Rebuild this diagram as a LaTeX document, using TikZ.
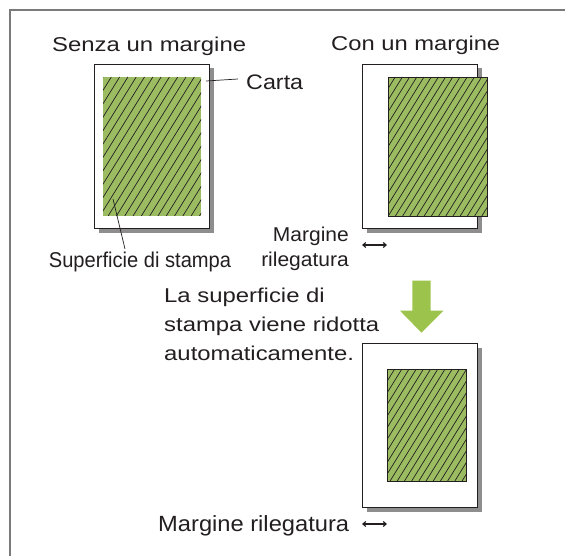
\documentclass[tikz,border=0pt]{standalone}
\usepackage{fontspec}
\usepackage{graphicx}
\setmainfont{Liberation Sans}
\usetikzlibrary{arrows.meta}
\definecolor{txt}{HTML}{231F20}
\definecolor{hatchgreen}{HTML}{9CBC62}
\definecolor{arrowgreen}{HTML}{9CC34C}
\definecolor{shadowgray}{HTML}{8E8E8E}
\definecolor{framegray}{HTML}{7A7A7A}
\newcommand\sx[2]{\scalebox{#1}[1]{#2}}
\newcommand\hatchrect[5]{%
  \begin{scope}
    \clip (#1,#2) rectangle (#3,#4);
    \pgfmathsetmacro\hh{#4-#2}
    \pgfmathsetmacro\st{#1-\hh*0.62}
    \foreach \i in {0,...,45} {
      \draw[hatchline] (\st+\i*#5,#4) -- ++(\hh*0.62,-\hh);
    }
  \end{scope}}
\tikzset{
  hatchline/.style={line width=0.7pt, txt},
  pageshadow/.style={fill=shadowgray, draw=none},
  paper/.style={fill=white, draw=txt, line width=0.9pt},
  printarea/.style={fill=hatchgreen, draw=none},
  printborder/.style={draw=txt, line width=0.8pt},
  lbl/.style={inner sep=0pt, text=txt},
  leader/.style={draw=txt, line width=0.7pt},
  dblarrow/.style={txt, line width=1.1pt, {Straight Barb[length=3pt,width=5pt]}-{Straight Barb[length=3pt,width=5pt]}},
}
\begin{document}
\begin{tikzpicture}[x=1pt,y=-1pt]
\useasboundingbox (0,0) rectangle (565,556);
% frame
\draw[framegray, line width=1.2pt] (10,556) -- (10,10) -- (565,10);

% ---- page 1 (Senza un margine)
\fill[pageshadow] (99,68) rectangle (214,233);
\draw[paper] (94,64) rectangle (209,228);
\fill[printarea] (103,77) rectangle (201,216);
\hatchrect{103}{77}{201}{216}{8.3}
\node[lbl, anchor=base west, font=\fontsize{20}{24}\selectfont] (t1) at (52,52) {\sx{1.195}{Senza un margine}};
\coordinate (c1) at (206,81);
\node[lbl, anchor=base west, font=\fontsize{21}{24}\selectfont] (carta) at (246,89.5) {\sx{1.11}{Carta}};
\draw[leader] (c1) -- ([xshift=-8pt]carta.west |- 0,79);
\coordinate (s1) at (113,199);
\node[lbl, anchor=base, font=\fontsize{21.4}{24}\selectfont] (sup) at (140,267.5) {\sx{0.94}{Superficie di stampa}};
\draw[leader] (s1) -- (125,249);

% ---- page 2 (Con un margine)
\fill[pageshadow] (367,68) rectangle (482,233);
\draw[paper] (362,64) rectangle (477,228);
\fill[printarea] (388,77) rectangle (487,216);
\hatchrect{388}{77}{487}{216}{7.2}
\draw[printborder] (388,77) rectangle (487,216);
\node[lbl, anchor=base west, font=\fontsize{20}{24}\selectfont] (t2) at (331,50.5) {\sx{1.188}{Con un margine}};
\node[lbl, anchor=base east, font=\fontsize{20}{24}\selectfont] (m1) at (349,242) {\sx{1.05}{Margine}};
\node[lbl, anchor=base east, font=\fontsize{20}{24}\selectfont] (r1) at (349,266.5) {\sx{1.05}{rilegatura}};
\coordinate (a1l) at (362,245);
\coordinate (a1r) at (387,245);
\draw[dblarrow] (a1l) -- (a1r);

% ---- green arrow
\fill[arrowgreen] (412.3,280.7) -- (430.7,280.7) -- (430.7,310.7) -- (443.3,310.7)
  -- (421.5,332.7) -- (400,310.7) -- (412.3,310.7) -- cycle;
\node[lbl, anchor=base west, font=\fontsize{20}{24}\selectfont] (info1) at (164,302.7) {\sx{1.194}{La superficie di}};
\node[lbl, anchor=base west, font=\fontsize{20}{24}\selectfont] (info2) at (164,331.5) {\sx{1.194}{stampa viene ridotta}};
\node[lbl, anchor=base west, font=\fontsize{20}{24}\selectfont] (info3) at (164,360) {\sx{1.194}{automaticamente.}};

% ---- page 3
\fill[pageshadow] (367,348) rectangle (482,512);
\draw[paper] (362,343.5) rectangle (477,507);
\fill[printarea] (387.5,369) rectangle (466.5,481);
\hatchrect{387.5}{369}{466.5}{481}{7.2}
\draw[printborder] (387.5,369) rectangle (466.5,481);
\node[lbl, anchor=base west, font=\fontsize{22}{26}\selectfont] (m2) at (158,531.7) {\sx{1.077}{Margine rilegatura}};
\coordinate (a2l) at (362,524);
\coordinate (a2r) at (387,524);
\draw[dblarrow] (a2l) -- (a2r);
\end{tikzpicture}
\end{document}
